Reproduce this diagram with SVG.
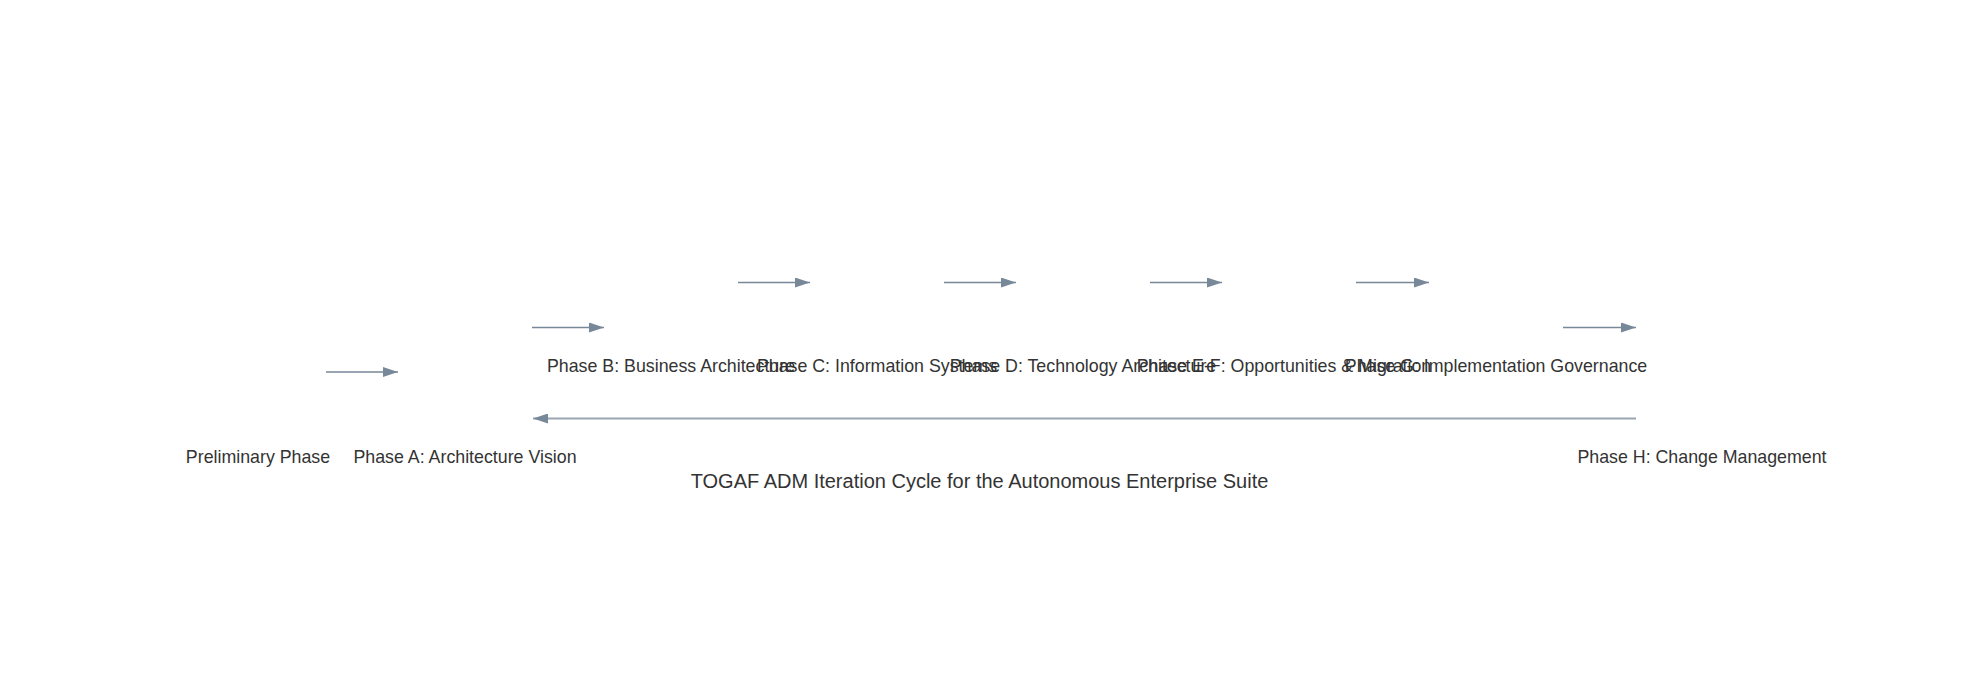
<svg xmlns="http://www.w3.org/2000/svg" width="1963" height="687" viewBox="0 0 1963 687">
  <style>
    .lbl { font-family: "Liberation Sans", Arial, Helvetica, sans-serif; font-size: 17.8px; fill: #333333; text-anchor: middle; }
    .title { font-family: "Liberation Sans", Arial, Helvetica, sans-serif; font-size: 20px; fill: #333333; text-anchor: middle; }
    .edge { fill: none; stroke: #778899; stroke-width: 1.6; }
    .back { fill: none; stroke: #9aa6b2; stroke-width: 2.2; }
  </style>
  <defs>
    <marker id="arrow" markerUnits="userSpaceOnUse" markerWidth="15" markerHeight="10" refX="15" refY="5" orient="auto">
      <path d="M0,0 L15,5 L0,10 z" fill="#778899"/>
    </marker>
  </defs>
  <rect x="0" y="0" width="1963" height="687" fill="#ffffff"/>
  <g id="connectors">
    <line class="edge" x1="326" y1="372" x2="398" y2="372" marker-end="url(#arrow)"/>
    <line class="edge" x1="532" y1="327.5" x2="604" y2="327.5" marker-end="url(#arrow)"/>
    <line class="edge" x1="738" y1="282.5" x2="810" y2="282.5" marker-end="url(#arrow)"/>
    <line class="edge" x1="944" y1="282.5" x2="1016" y2="282.5" marker-end="url(#arrow)"/>
    <line class="edge" x1="1150" y1="282.5" x2="1222" y2="282.5" marker-end="url(#arrow)"/>
    <line class="edge" x1="1356" y1="282.5" x2="1429" y2="282.5" marker-end="url(#arrow)"/>
    <line class="edge" x1="1563" y1="327.5" x2="1636" y2="327.5" marker-end="url(#arrow)"/>
    <line class="back" x1="1636" y1="418.5" x2="533" y2="418.5" marker-end="url(#arrow)"/>
  </g>
  <g id="node-preliminary"><text class="lbl" x="258" y="463">Preliminary Phase</text></g>
  <g id="node-phase-a"><text class="lbl" x="465" y="463">Phase A: Architecture Vision</text></g>
  <g id="node-phase-b"><text class="lbl" x="671" y="372">Phase B: Business Architecture</text></g>
  <g id="node-phase-c"><text class="lbl" x="877" y="372">Phase C: Information Systems</text></g>
  <g id="node-phase-d"><text class="lbl" x="1083" y="372">Phase D: Technology Architecture</text></g>
  <g id="node-phase-ef"><text class="lbl" x="1284" y="372">Phase E-F: Opportunities &amp; Migration</text></g>
  <g id="node-phase-g"><text class="lbl" x="1496" y="372">Phase G: Implementation Governance</text></g>
  <g id="node-phase-h"><text class="lbl" x="1702" y="463">Phase H: Change Management</text></g>
  <g id="title"><text class="title" x="979.5" y="488">TOGAF ADM Iteration Cycle for the Autonomous Enterprise Suite</text></g>
</svg>
